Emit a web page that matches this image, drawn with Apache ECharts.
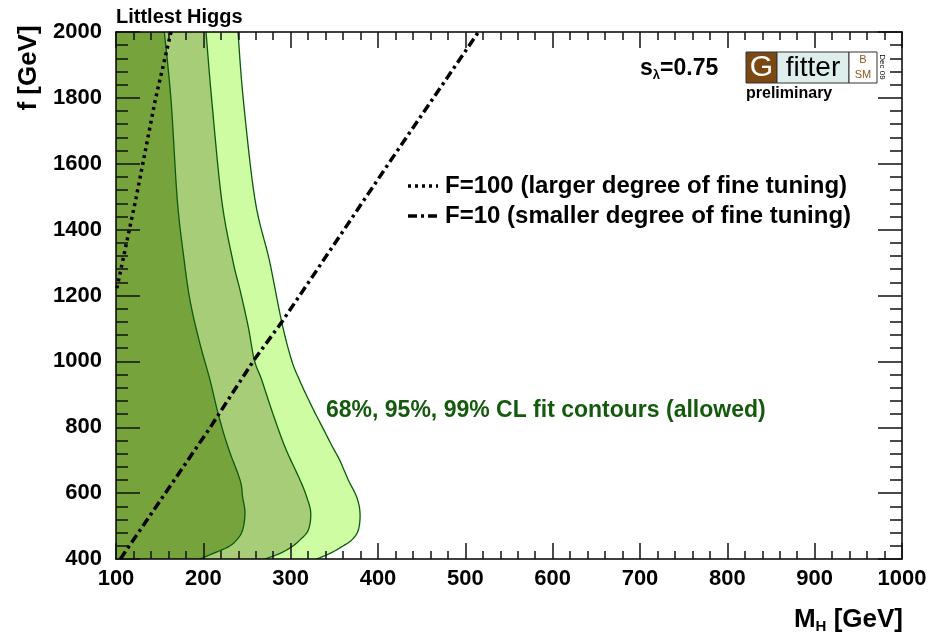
<!DOCTYPE html>
<html>
<head>
<meta charset="utf-8">
<script src="https://cdn.jsdelivr.net/npm/echarts@6/dist/echarts.min.js"></script>
<style>
  html, body { margin: 0; padding: 0; background: #ffffff; }
  #chart { width: 944px; height: 634px; }
</style>
</head>
<body>
<div id="chart"></div>
<script>
// Axis ranges and steps
const massRange = [100, 1000];   // M_H [GeV]
const massStep = 100;
const fRange = [400, 2000];      // f [GeV]
const fStep = 200;

// Fit contours: boundary points [M_H, f] from the top edge down to the bottom edge
const cl99 = [[239.7,2000],[245.8,1794],[259.2,1490],[275.5,1308],[289.7,1120],[301,1004],[310,944],[317,903],[328,843],[336,802],[348,740],[356,701],[366,640],[375.6,588],[379.4,540],[377.5,488],[370,458],[358.4,437],[345,417],[329.8,400]];
const cl95 = [[203.1,2000],[209.6,1794],[221,1490],[233.6,1308],[242.8,1208],[251.5,1104],[258.4,1004],[266.8,944],[279.4,843],[293.5,740],[310.7,640],[318.4,588],[323,540],[320.2,488],[310.7,458],[301.2,437],[287.8,417],[270.6,400]];
const cl68 = [[155.3,2000],[163,1794],[170.2,1490],[178,1308],[184.7,1186],[195,1065],[207.6,944],[216.8,843],[228.2,740],[242,640],[245,588],[247.7,540],[245,488],[238.2,458],[228.6,437],[211.4,417],[196,400]];

// Fine-tuning lines
const fineTuning100 = [[101,1222],[123,1496],[145,1794],[163,2000]];
const fineTuning10 = [[105,400],[208,800],[258,1004],[290,1120],[412,1600],[515,2000]];

// Texts
const legendLabels = ['F=100 (larger degree of fine tuning)', 'F=10 (smaller degree of fine tuning)'];
const contourLabel = '68%, 95%, 99% CL fit contours (allowed)';
const modelLabel = 'Littlest Higgs';

const FONT = '"Liberation Sans", Arial, Helvetica, sans-serif';
const contourLine = '#0b5a0b';

// Smooth a pixel-space polyline (Catmull-Rom) so the contour edges are drawn as curves
function smoothPixels(p) {
  const out = [p[0]];
  const steps = 8;
  for (let i = 0; i < p.length - 1; i++) {
    const p0 = p[i - 1] || p[i], p1 = p[i], p2 = p[i + 1], p3 = p[i + 2] || p[i + 1];
    for (let s = 1; s <= steps; s++) {
      const t = s / steps, t2 = t * t, t3 = t2 * t;
      const c = k => 0.5 * (2 * p1[k] + (-p0[k] + p2[k]) * t +
        (2 * p0[k] - 5 * p1[k] + 4 * p2[k] - p3[k]) * t2 +
        (-p0[k] + 3 * p1[k] - 3 * p2[k] + p3[k]) * t3);
      out.push([c(0), c(1)]);
    }
  }
  return out;
}

function contourItem(points, fill) {
  return function (params, api) {
    if (params.dataIndex !== 0) return null;
    const edge = smoothPixels(points.map(p => api.coord(p)));
    const top = api.coord([massRange[0], points[0][1]]);
    const bottom = api.coord([massRange[0], points[points.length - 1][1]]);
    return {
      type: 'group',
      children: [
        { type: 'polygon', shape: { points: [top].concat(edge, [bottom]) }, style: { fill: fill, stroke: null } },
        { type: 'polyline', shape: { points: edge }, style: { stroke: contourLine, lineWidth: 1.3, fill: null } }
      ]
    };
  };
}

function contourSeries(points, fill) {
  return {
    type: 'custom',
    data: points,
    encode: { x: 0, y: 1 },
    renderItem: contourItem(points, fill),
    clip: true,
    silent: true,
    z: 2
  };
}

const plainNumber = v => String(v);

function makeAxis(range, step, position, majorLen, minorLen, labels, margin) {
  return {
    type: 'value',
    position: position,
    min: range[0],
    max: range[1],
    interval: step,
    z: 10,
    splitLine: { show: false },
    minorSplitLine: { show: false },
    axisLine: { show: true, onZero: false, lineStyle: { color: '#000', width: 1.5 } },
    axisTick: { show: true, inside: true, length: majorLen, lineStyle: { color: '#111', width: 1.5 } },
    minorTick: { show: true, splitNumber: 5, length: minorLen, lineStyle: { color: '#111', width: 1.5 } },
    axisLabel: labels
      ? { show: true, color: '#000', fontFamily: FONT, fontWeight: 'bold', fontSize: 22, margin: margin, formatter: plainNumber }
      : { show: false }
  };
}

const chart = echarts.init(document.getElementById('chart'), null, { renderer: 'canvas' });

chart.setOption({
  animation: false,
  backgroundColor: '#ffffff',
  grid: { left: 116, right: 42, top: 32, bottom: 75, containLabel: false, outerBoundsMode: 'none' },
  xAxis: [
    makeAxis(massRange, massStep, 'bottom', 16, 8, true, 9),
    makeAxis(massRange, massStep, 'top', 16, 8, false, 0)
  ],
  yAxis: [
    makeAxis(fRange, fStep, 'left', 24, 12, true, 14),
    makeAxis(fRange, fStep, 'right', 24, 12, false, 0)
  ],
  series: [
    contourSeries(cl99, '#cdfca3'),
    contourSeries(cl95, '#a7cd78'),
    contourSeries(cl68, '#77a33d'),
    {
      type: 'line', name: legendLabels[0], data: fineTuning100, symbol: 'none', clip: true, silent: true,
      lineStyle: { color: '#000', width: 3.5, type: [3, 4], cap: 'butt' }, z: 12
    },
    {
      type: 'line', name: legendLabels[1], data: fineTuning10, symbol: 'none', clip: true, silent: true,
      lineStyle: { color: '#000', width: 3.5, type: [9, 4, 3, 4], cap: 'butt' }, z: 12
    }
  ],
  graphic: [
    // model name above the frame
    { type: 'text', left: 116, top: 7, style: { text: modelLabel, font: 'bold 20px ' + FONT, fill: '#000' } },
    // axis titles
    {
      type: 'text', x: 903, y: 620,
      style: {
        text: '{m|M}{s|H}{m| [GeV]}', align: 'right', verticalAlign: 'middle',
        rich: {
          m: { font: 'bold 26px ' + FONT, fill: '#000' },
          s: { font: 'bold 15px ' + FONT, fill: '#000', padding: [14, 0, 0, 0] }
        }
      }
    },
    {
      type: 'text', x: 29, y: 68, rotation: Math.PI / 2,
      style: { text: 'f [GeV]', font: 'bold 26px ' + FONT, fill: '#000', align: 'center', verticalAlign: 'middle' }
    },
    // legend
    { type: 'line', shape: { x1: 408, y1: 186, x2: 438, y2: 186 }, style: { stroke: '#000', lineWidth: 3.5, lineDash: [3, 4] } },
    { type: 'text', x: 445, y: 186, style: { text: legendLabels[0], font: 'bold 24px ' + FONT, fill: '#000', verticalAlign: 'middle' } },
    { type: 'line', shape: { x1: 408, y1: 216, x2: 438, y2: 216 }, style: { stroke: '#000', lineWidth: 3.5, lineDash: [9, 4, 3, 4] } },
    { type: 'text', x: 445, y: 216, style: { text: legendLabels[1], font: 'bold 24px ' + FONT, fill: '#000', verticalAlign: 'middle' } },
    // contour annotation
    { type: 'text', x: 326, y: 411, style: { text: contourLabel, font: 'bold 23px ' + FONT, fill: '#145a0c', verticalAlign: 'middle' } },
    // s_lambda
    {
      type: 'text', x: 640, y: 69,
      style: {
        text: '{m|s}{s|λ}{m|=0.75}', verticalAlign: 'middle',
        rich: {
          m: { font: 'bold 23px ' + FONT, fill: '#000' },
          s: { font: 'bold 13px ' + FONT, fill: '#000', padding: [12, 0, 0, 0] }
        }
      }
    },
    // Gfitter logo
    { type: 'rect', shape: { x: 746, y: 52, width: 31, height: 31 }, style: { fill: '#7b4713', stroke: '#333', lineWidth: 1 } },
    { type: 'text', x: 761.5, y: 68, style: { text: 'G', font: '30px ' + FONT, fill: '#ffffff', align: 'center', verticalAlign: 'middle' } },
    { type: 'rect', shape: { x: 777, y: 52, width: 72, height: 31 }, style: { fill: '#ddeeec', stroke: '#333', lineWidth: 1 } },
    { type: 'text', x: 813, y: 68, style: { text: 'fitter', font: '28px ' + FONT, fill: '#000', align: 'center', verticalAlign: 'middle' } },
    { type: 'rect', shape: { x: 849, y: 52, width: 28, height: 31 }, style: { fill: '#ffffff', stroke: '#333', lineWidth: 1 } },
    { type: 'text', x: 863, y: 60, style: { text: 'B', font: '11px ' + FONT, fill: '#8a5a1a', align: 'center', verticalAlign: 'middle' } },
    { type: 'text', x: 863, y: 75, style: { text: 'SM', font: '11px ' + FONT, fill: '#8a5a1a', align: 'center', verticalAlign: 'middle' } },
    {
      type: 'text', x: 882, y: 67, rotation: -Math.PI / 2,
      style: { text: 'Dec 09', font: '8px ' + FONT, fill: '#000', align: 'center', verticalAlign: 'middle' }
    },
    { type: 'text', x: 746, y: 94, style: { text: 'preliminary', font: 'bold 16px ' + FONT, fill: '#000', verticalAlign: 'middle' } }
  ]
});
</script>
</body>
</html>
